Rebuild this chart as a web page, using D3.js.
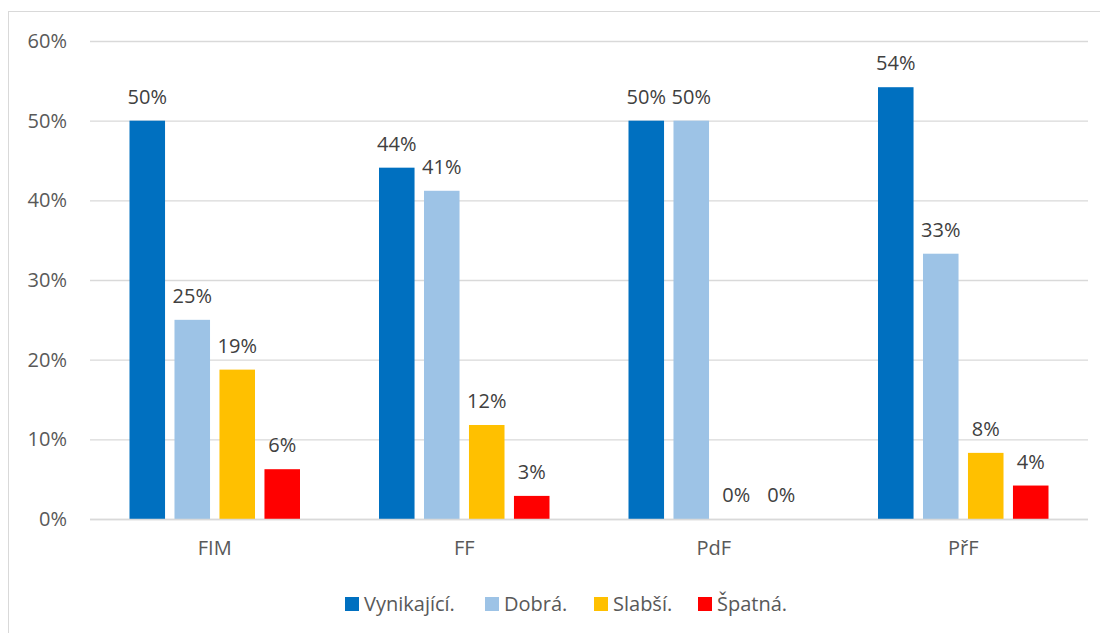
<!DOCTYPE html>
<html>
<head>
<meta charset="utf-8">
<title>Hodnocení</title>
<script src="https://cdn.jsdelivr.net/npm/d3@7"></script>
<style>
  body { margin: 0; background: #fff; }
  svg text { font-family: "Open Sans", Lato, sans-serif; }
</style>
</head>
<body>
<svg width="1100" height="633"></svg>
<script>
// data
var faculties = ['FIM', 'FF', 'PdF', 'PřF'];
var grades = ['Vynikající.', 'Dobrá.', 'Slabší.', 'Špatná.'];
var colors = ['#0070c0', '#9dc3e6', '#ffc000', '#ff0000'];
var vynikajici = [0.50, 0.441, 0.50, 0.542];
var dobra = [0.25, 0.412, 0.50, 0.333];
var slabsi = [0.1875, 0.118, 0, 0.083];
var spatna = [0.0625, 0.029, 0, 0.042];
var yTicks = [0, 0.1, 0.2, 0.3, 0.4, 0.5, 0.6];

var series = [vynikajici, dobra, slabsi, spatna];

var svg = d3.select('svg');
var fontSize = '20px';

// outer frame
svg.append('rect')
  .attr('x', 8.5).attr('y', 11.5)
  .attr('width', 1100).attr('height', 640)
  .attr('fill', 'none')
  .attr('stroke', '#d9d9d9');

var plotL = 90, plotR = 1088, plotT = 41, plotB = 519;

var x = d3.scaleBand().domain(faculties).range([plotL, plotR]);
var y = d3.scaleLinear().domain([0, 0.6]).range([plotB, plotT]);
var groupW = 4 * 45 - 9.5;
var xs = d3.scaleBand().domain(d3.range(grades.length))
  .range([0, groupW]).paddingInner(0.21);
var groupOffset = (x.bandwidth() - groupW) / 2;

// gridlines
svg.append('g').selectAll('line')
  .data(yTicks)
  .enter().append('line')
  .attr('x1', plotL).attr('x2', plotR)
  .attr('y1', function(d) { return y(d) + 0.5; })
  .attr('y2', function(d) { return y(d) + 0.5; })
  .attr('stroke', '#d9d9d9')
  .attr('stroke-width', 1.3);

// y axis labels
var yAxis = d3.axisLeft(y).tickValues(yTicks).tickSize(0).tickPadding(0)
  .tickFormat(d3.format('.0%'));
var ya = svg.append('g').attr('transform', 'translate(67,0)').call(yAxis);
ya.select('.domain').remove();
ya.selectAll('text')
  .attr('fill', '#595959')
  .style('font-size', fontSize)
  .style('font-family', '"Open Sans", Lato, sans-serif');

// bars
var groups = svg.append('g').selectAll('g')
  .data(series)
  .enter().append('g')
  .attr('fill', function(d, i) { return colors[i]; });

groups.each(function(vals, si) {
  var g = d3.select(this);
  g.selectAll('rect')
    .data(vals)
    .enter().append('rect')
    .attr('x', function(d, i) { return x(faculties[i]) + groupOffset + xs(si); })
    .attr('width', xs.bandwidth())
    .attr('y', function(d) { return y(d); })
    .attr('height', function(d) { return plotB - y(d); });

  g.selectAll('text')
    .data(vals)
    .enter().append('text')
    .attr('x', function(d, i) { return x(faculties[i]) + groupOffset + xs(si) + xs.bandwidth() / 2; })
    .attr('y', function(d) { return y(d) - 17; })
    .attr('text-anchor', 'middle')
    .attr('fill', '#404040')
    .style('font-size', fontSize)
    .text(function(d) { return d3.format('.0%')(d); });
});

// x axis line
svg.append('line')
  .attr('x1', plotL).attr('x2', plotR)
  .attr('y1', plotB + 0.5).attr('y2', plotB + 0.5)
  .attr('stroke', '#d9d9d9').attr('stroke-width', 1.5);

// category labels
var xAxis = d3.axisBottom(x).tickSize(0).tickPadding(0);
var xa = svg.append('g').attr('transform', 'translate(0,541)').call(xAxis);
xa.select('.domain').remove();
xa.selectAll('text')
  .attr('fill', '#595959')
  .style('font-size', fontSize)
  .style('font-family', '"Open Sans", Lato, sans-serif');

// legend
var legendX = [345, 485, 594, 698];
var legend = svg.append('g').selectAll('g')
  .data(grades)
  .enter().append('g')
  .attr('transform', function(d, i) { return 'translate(' + legendX[i] + ',597)'; });
legend.append('rect')
  .attr('width', 14).attr('height', 14)
  .attr('fill', function(d, i) { return colors[i]; });
legend.append('text')
  .attr('x', 19).attr('y', 14)
  .attr('fill', '#595959')
  .style('font-size', fontSize)
  .text(function(d) { return d; });
</script>
</body>
</html>
